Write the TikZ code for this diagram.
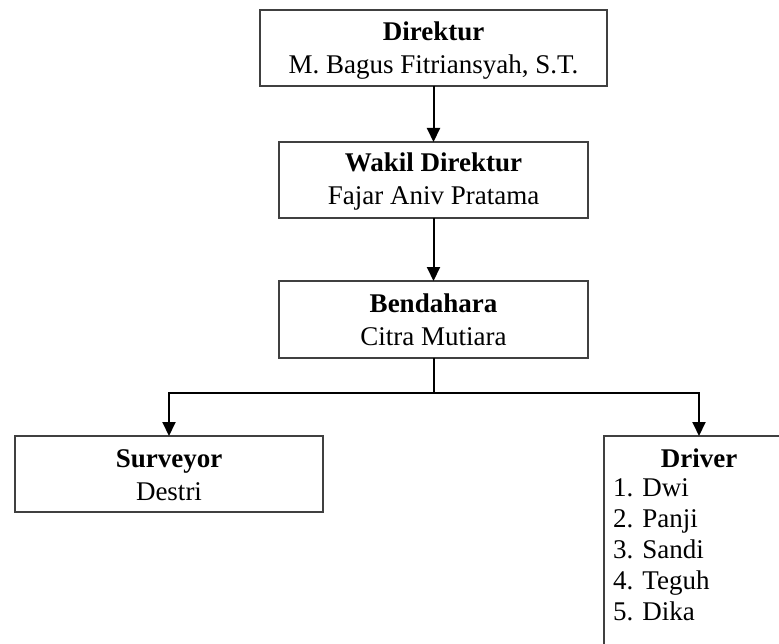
\documentclass[tikz,border=0pt]{standalone}
\usepackage{fontspec}
\setmainfont{Liberation Serif}
\usetikzlibrary{arrows.meta}
\begin{document}
\begin{tikzpicture}[x=1bp,y=-1bp]
\tikzset{
  orgbox/.style={draw=black!75, line width=1.5bp, fill=white, inner sep=0pt, outer sep=0pt},
  rolename/.style={anchor=base, inner sep=0pt, font=\fontsize{27bp}{33bp}\selectfont\bfseries},
  person/.style={anchor=base, inner sep=0pt, font=\fontsize{27bp}{33bp}\selectfont},
  listitem/.style={person, anchor=base west},
  conn/.style={draw=black, line width=2bp, -{Triangle[length=14bp,width=13bp]}},
  link/.style={draw=black, line width=2bp},
}
\useasboundingbox (0,0) rectangle (779,644);
\clip (0,0) rectangle (779,644);

% Direktur
\node[orgbox, minimum width=347bp, minimum height=76bp] (dir) at (433.5,48) {};
\node[rolename] (dirT) at (433.5,41) {Direktur};
\node[person] (dirN) at (433.5,74) {M. Bagus Fitriansyah, S.T.};

% Wakil Direktur
\node[orgbox, minimum width=309bp, minimum height=76bp] (wak) at (433.5,180) {};
\node[rolename] (wakT) at (433.5,172) {Wakil Direktur};
\node[person] (wakN) at (433.5,205) {Fajar Aniv Pratama};

% Bendahara
\node[orgbox, minimum width=309bp, minimum height=77bp] (ben) at (433.5,319.5) {};
\node[rolename] (benT) at (433.5,312) {Bendahara};
\node[person] (benN) at (433.5,345) {Citra Mutiara};

% Surveyor
\node[orgbox, minimum width=308bp, minimum height=76bp] (sur) at (169,474) {};
\node[rolename] (surT) at (169,467) {Surveyor};
\node[person] (surN) at (169,500) {Destri};

% Driver (runs past the page edge)
\node[orgbox, minimum width=190bp, minimum height=240bp] (drv) at (699,556) {};
\node[rolename] (drvT) at (699,467) {Driver};
\node[listitem] (d1) at (613,496) {1. Dwi};
\node[listitem] (d2) at (613,527) {2. Panji};
\node[listitem] (d3) at (613,558) {3. Sandi};
\node[listitem] (d4) at (613,589) {4. Teguh};
\node[listitem] (d5) at (613,620) {5. Dika};

% Connectors
\coordinate (bus) at (433.5,393);
\draw[conn] (dir.south -| wak.north) -- (wak.north);
\draw[conn] (wak.south) -- (ben.north);
\draw[link] (ben.south) -- (bus);
\draw[conn] (bus) -| (sur.north);
\draw[conn] (bus) -| (drv.north);
\end{tikzpicture}
\end{document}
